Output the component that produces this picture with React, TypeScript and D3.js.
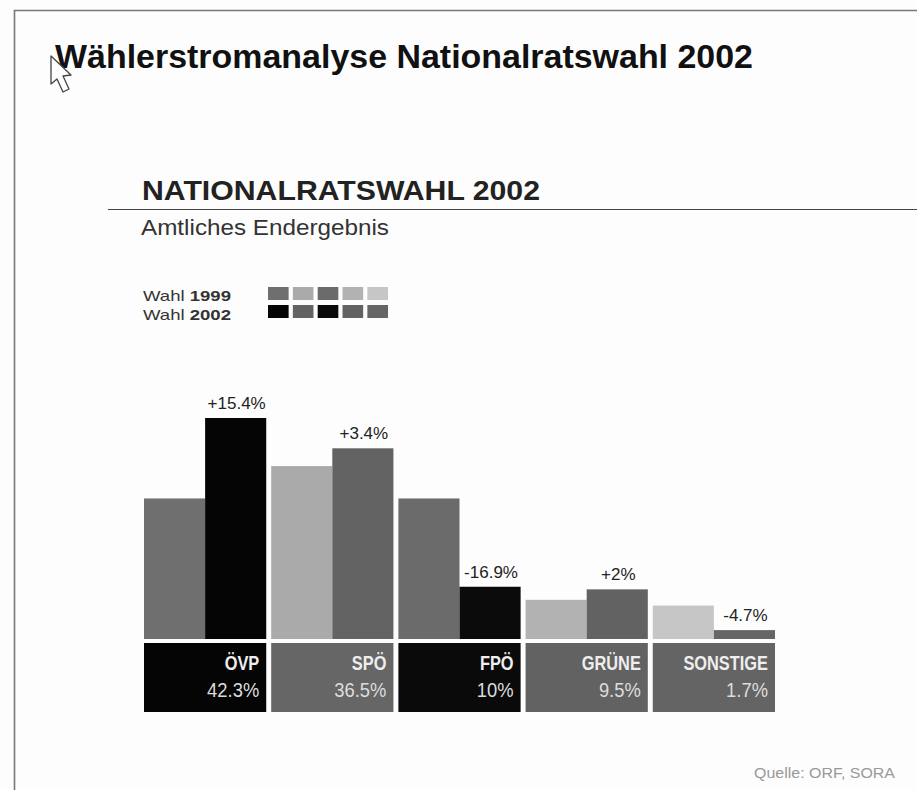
import React from "react";
import * as d3 from "d3";

// Party results in percent; the earlier election follows from the stated swings.
const parties = ["ÖVP", "SPÖ", "FPÖ", "GRÜNE", "SONSTIGE"];
const shareLabels = ["42.3%", "36.5%", "10%", "9.5%", "1.7%"];
const swingLabels = ["+15.4%", "+3.4%", "-16.9%", "+2%", "-4.7%"];
const votes2002 = [42.3, 36.5, 10, 9.5, 1.7];
const votes1999 = [26.9, 33.1, 26.9, 7.5, 6.4];

const colors1999 = ["#6f6f6f", "#aaaaaa", "#6b6b6b", "#b2b2b2", "#c6c6c6"];
const colors2002 = ["#050505", "#636363", "#0b0b0b", "#626262", "#666666"];
const boxColors = ["#050505", "#666666", "#0a0a0a", "#626262", "#646464"];

const sans = "'Liberation Sans', Arial, sans-serif";

const W = 917;
const H = 790;
const baseY = 639;

const groupX = d3.scaleBand<string>().domain(parties).range([144, 775]).paddingInner(0.039).paddingOuter(0).align(0);
const valueY = d3.scaleLinear().domain([0, 42.3]).range([baseY, 418]);
const swatchX = d3.scaleBand<string>().domain(parties).range([268, 388]).paddingInner(0.17).paddingOuter(0).align(0);

export default function App() {
  const barW = groupX.bandwidth() / 2;
  return (
    <svg
      width={W}
      height={H}
      viewBox={`0 0 ${W} ${H}`}
      style={{ position: "absolute", left: 0, top: 0, background: "#fdfdfd" }}
    >
      {/* Slide frame */}
      <path d={`M14.5 ${H}V10.5H${W}`} fill="none" stroke="#777" strokeWidth={1.6} />

      <text x={55} y={68} fontFamily={sans} fontWeight={700} fontSize={32.5} fill="#111" textLength={698} lengthAdjust="spacingAndGlyphs">
        Wählerstromanalyse Nationalratswahl 2002
      </text>

      {/* Pointer */}
      <path
        d="M51 56L51 84L57 79L63 92L69 89L63 76L71 75Z"
        fill="#fff"
        stroke="#444"
        strokeWidth={1.3}
        strokeLinejoin="round"
      />

      <text x={142} y={200} fontFamily={sans} fontWeight={700} fontSize={28.5} fill="#222" textLength={398} lengthAdjust="spacingAndGlyphs">
        NATIONALRATSWAHL 2002
      </text>
      <line x1={108} x2={W} y1={209.5} y2={209.5} stroke="#444" strokeWidth={1.2} />
      <text x={141} y={235} fontFamily={sans} fontSize={21.5} fill="#333" textLength={248} lengthAdjust="spacingAndGlyphs">
        Amtliches Endergebnis
      </text>

      {/* Legend */}
      <text x={143} y={301} fontFamily={sans} fontSize={15} fill="#333" textLength={88} lengthAdjust="spacingAndGlyphs">
        Wahl <tspan fontWeight={700}>1999</tspan>
      </text>
      <text x={143} y={320} fontFamily={sans} fontSize={15} fill="#333" textLength={88} lengthAdjust="spacingAndGlyphs">
        Wahl <tspan fontWeight={700}>2002</tspan>
      </text>
      {parties.map((p, i) => (
        <g key={p}>
          <rect x={swatchX(p)} y={287} width={swatchX.bandwidth()} height={13} fill={colors1999[i]} />
          <rect x={swatchX(p)} y={305} width={swatchX.bandwidth()} height={13} fill={colors2002[i]} />
        </g>
      ))}

      {/* Paired bars, party boxes and swing labels */}
      {parties.map((p, i) => {
        const x0 = groupX(p) as number;
        const right = x0 + groupX.bandwidth() - 7;
        return (
          <g key={p}>
            <rect x={x0} y={valueY(votes1999[i])} width={barW} height={baseY - valueY(votes1999[i])} fill={colors1999[i]} />
            <rect x={x0 + barW} y={valueY(votes2002[i])} width={barW} height={baseY - valueY(votes2002[i])} fill={colors2002[i]} />
            <text
              x={x0 + barW * 1.5 + 1}
              y={valueY(votes2002[i]) - 9}
              textAnchor="middle"
              fontFamily={sans}
              fontSize={17}
              fill="#222"
            >
              {swingLabels[i]}
            </text>
            <rect x={x0} y={643} width={groupX.bandwidth()} height={69} fill={boxColors[i]} />
            <text
              transform={`translate(${right},670) scale(0.84,1)`}
              textAnchor="end"
              fontFamily={sans}
              fontWeight={700}
              fontSize={19.5}
              fill="#eee"
            >
              {p}
            </text>
            <text
              transform={`translate(${right},697) scale(0.92,1)`}
              textAnchor="end"
              fontFamily={sans}
              fontSize={20}
              fill="#ddd"
            >
              {shareLabels[i]}
            </text>
          </g>
        );
      })}

      <text x={754} y={778} fontFamily={sans} fontSize={14} fill="#999" textLength={141} lengthAdjust="spacingAndGlyphs">
        Quelle: ORF, SORA
      </text>
    </svg>
  );
}
